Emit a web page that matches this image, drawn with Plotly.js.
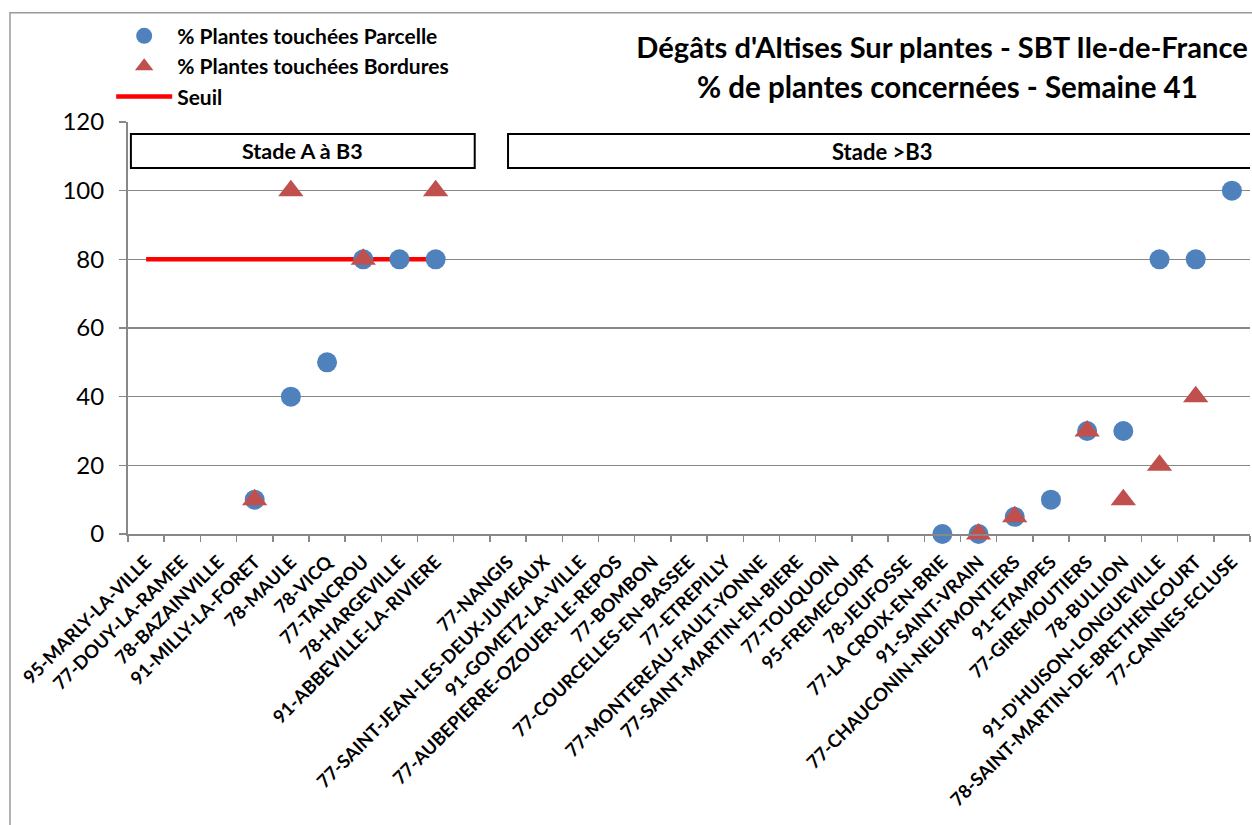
<!DOCTYPE html>
<html>
<head>
<meta charset="utf-8">
<script src="https://cdn.plot.ly/plotly-3.0.1.min.js"></script>
<style>
html, body { margin: 0; padding: 0; background: #ffffff; overflow: hidden; }
#chart { width: 1252px; height: 825px; }
</style>
</head>
<body>
<div id="chart"></div>
<script>
// ---- Data ----
const categories = [
  "95-MARLY-LA-VILLE", "77-DOUY-LA-RAMEE", "78-BAZAINVILLE", "91-MILLY-LA-FORET",
  "78-MAULE", "78-VICQ", "77-TANCROU", "78-HARGEVILLE", "91-ABBEVILLE-LA-RIVIERE",
  "", "77-NANGIS", "77-SAINT-JEAN-LES-DEUX-JUMEAUX", "91-GOMETZ-LA-VILLE",
  "77-AUBEPIERRE-OZOUER-LE-REPOS", "77-BOMBON", "77-COURCELLES-EN-BASSEE",
  "77-ETREPILLY", "77-MONTEREAU-FAULT-YONNE", "77-SAINT-MARTIN-EN-BIERE",
  "77-TOUQUOIN", "95-FREMECOURT", "78-JEUFOSSE", "77-LA CROIX-EN-BRIE",
  "91-SAINT-VRAIN", "77-CHAUCONIN-NEUFMONTIERS", "91-ETAMPES", "77-GIREMOUTIERS",
  "78-BULLION", "91-D'HUISON-LONGUEVILLE", "78-SAINT-MARTIN-DE-BRETHENCOURT",
  "77-CANNES-ECLUSE"
];
const parcelle = [
  null, null, null, 10, 40, 50, 80, 80, 80,
  null, null, null, null, null, null, null, null, null, null, null, null, null,
  0, 0, 5, 10, 30, 30, 80, 80, 100
];
const bordures = [
  null, null, null, 10, 100, null, 80, null, 100,
  null, null, null, null, null, null, null, null, null, null, null, null, null,
  null, 0, 5, null, 30, 10, 20, 40, null
];
const seuil = [
  80, 80, 80, 80, 80, 80, 80, 80, 80,
  null, null, null, null, null, null, null, null, null, null, null, null, null,
  null, null, null, null, null, null, null, null, null
];
const seriesNames = ["% Plantes touchées Parcelle", "% Plantes touchées Bordures", "Seuil"];
const stageLabels = ["Stade A à B3", "Stade >B3"];
const titleLines = ["Dégâts d'Altises Sur plantes - SBT Ile-de-France", "% de plantes concernées - Semaine 41"];
const yTicks = [0, 20, 40, 60, 80, 100, 120];

// blank category needs a unique non-empty key for the category axis
const cats = categories.map(c => c === "" ? "\u00a0" : c);

const FONT = "Lato, 'Open Sans', sans-serif";
const GRAY = "#888888";

const traces = [
  {
    x: cats, y: seuil, name: "<b>" + seriesNames[2] + "</b>", type: "scatter", mode: "lines",
    line: { color: "#ff0000", width: 4.5 }, legendrank: 3, connectgaps: false,
    cliponaxis: false, hoverinfo: "skip"
  },
  {
    x: cats, y: parcelle, name: "<b>" + seriesNames[0] + "</b>", type: "scatter", mode: "markers",
    marker: { symbol: "circle", size: 20, color: "#4f81bd" }, legendrank: 1,
    cliponaxis: false
  },
  {
    x: cats, y: bordures, name: "<b>" + seriesNames[1] + "</b>", type: "scatter", mode: "markers",
    marker: { symbol: "triangle-up", size: 22, color: "#c0504d" }, legendrank: 2,
    cliponaxis: false
  }
];

const layout = {
  width: 1252, height: 825,
  margin: { l: 128, r: 2, t: 122, b: 291, pad: 0 },
  paper_bgcolor: "#ffffff", plot_bgcolor: "#ffffff",
  font: { family: FONT, color: "#000000" },
  showlegend: true,
  legend: {
    x: -0.015, xanchor: "left", y: 1.258, yanchor: "top",
    bgcolor: "rgba(0,0,0,0)", borderwidth: 0,
    font: { family: FONT, size: 21, color: "#000000" },
    itemwidth: 56, tracegroupgap: 0
  },
  title: {
    text: "<b>" + titleLines[0] + "</b>",
    font: { family: FONT, size: 29.1, color: "#000000" },
    xref: "paper", x: 0.7255, xanchor: "center",
    yref: "container", y: 1 - 48 / 825, yanchor: "middle"
  },
  xaxis: {
    type: "category", categoryorder: "array", categoryarray: cats,
    range: [-0.5, cats.length - 0.5],
    tickson: "boundaries", ticks: "outside", ticklen: 6, tickcolor: GRAY, tickwidth: 1.5,
    showline: true, linecolor: GRAY, linewidth: 2,
    showgrid: false, zeroline: false,
    tickangle: -45,
    tickfont: { family: FONT, size: 18.4, color: "#000000", weight: "bold" },
    ticklabelstandoff: 8,
    fixedrange: true
  },
  yaxis: {
    range: [0, 120], tickvals: yTicks, ticktext: yTicks.map(String),
    ticks: "outside", ticklen: 7, tickcolor: GRAY, tickwidth: 1.5,
    showline: true, linecolor: GRAY, linewidth: 2,
    showgrid: true, gridcolor: GRAY, gridwidth: 1.5,
    zeroline: false,
    tickfont: { family: FONT, size: 24, color: "#000000" },
    ticklabelstandoff: 10,
    fixedrange: true
  },
  shapes: [
    // outer chart frame (left and top edges)
    { type: "path", xref: "paper", yref: "paper",
      path: "M -0.1052,-0.71 L -0.1052,1.265 L 1.01,1.265",
      line: { color: "#9a9a9a", width: 1.5 }, layer: "above" },
    // stage boxes
    { type: "rect", xref: "x", yref: "y", x0: -0.42, x1: 9.08, y0: 106.6, y1: 116.5,
      line: { color: "#000000", width: 2 }, fillcolor: "#ffffff", layer: "above" },
    { type: "rect", xref: "x", yref: "y", x0: 10.0, x1: 31, y0: 106.6, y1: 116.5,
      line: { color: "#000000", width: 2 }, fillcolor: "#ffffff", layer: "above" }
  ],
  annotations: [
    { text: "<b>" + titleLines[1] + "</b>", xref: "paper", yref: "paper",
      x: 0.73, xanchor: "center", y: (534 - 87) / 412, yanchor: "middle",
      showarrow: false, font: { family: FONT, size: 29.5, color: "#000000" } },
    { text: "<b>" + stageLabels[0] + "</b>", xref: "x", yref: "y",
      x: 4.33, y: 111.5, showarrow: false,
      font: { family: FONT, size: 21.5, color: "#000000" } },
    { text: "<b>" + stageLabels[1] + "</b>", xref: "x", yref: "y",
      x: 20.35, y: 111.5, showarrow: false,
      font: { family: FONT, size: 22, color: "#000000" } }
  ]
};

Plotly.newPlot("chart", traces, layout, { displayModeBar: false, staticPlot: true });
</script>
</body>
</html>
